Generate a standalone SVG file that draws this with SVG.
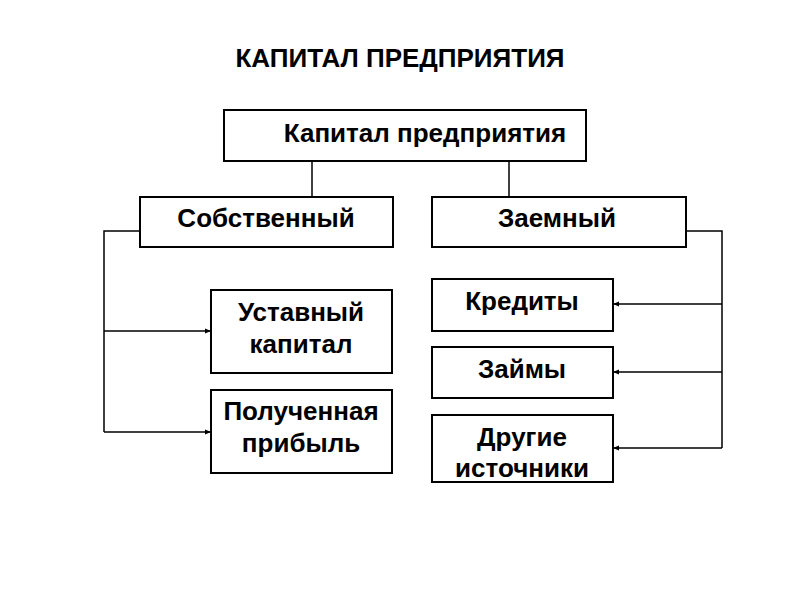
<svg xmlns="http://www.w3.org/2000/svg" width="800" height="600" viewBox="0 0 800 600">
<style>
.box{fill:#fff;stroke:#000;stroke-width:2}
.t{font-family:"Liberation Sans",Arial,sans-serif;font-weight:bold;font-size:26px;text-anchor:middle;fill:#000}
.c{fill:none;stroke:#000;stroke-width:1.5}
</style>
<defs>
<marker id="a" viewBox="0 0 6 6" refX="6" refY="3" markerWidth="6" markerHeight="6" markerUnits="userSpaceOnUse" orient="auto">
<path d="M0,0.5 L6,3 L0,5.5 z" fill="#000"/>
</marker>
</defs>
<rect width="800" height="600" fill="#fff"/>
<text class="t" x="400" y="67">КАПИТАЛ ПРЕДПРИЯТИЯ</text>
<g id="connectors">
<line class="c" x1="312" y1="161" x2="312" y2="197"/>
<line class="c" x1="509" y1="161" x2="509" y2="197"/>
<polyline class="c" points="140,231 104,231 104,432"/>
<line class="c" x1="104" y1="331" x2="211" y2="331" marker-end="url(#a)"/>
<line class="c" x1="104" y1="432" x2="211" y2="432" marker-end="url(#a)"/>
<polyline class="c" points="686,231 722,231 722,448"/>
<line class="c" x1="722" y1="304" x2="613" y2="304" marker-end="url(#a)"/>
<line class="c" x1="722" y1="372" x2="613" y2="372" marker-end="url(#a)"/>
<line class="c" x1="722" y1="448" x2="613" y2="448" marker-end="url(#a)"/>
</g>
<g id="n-root"><rect class="box" x="224" y="110" width="362" height="51"/><text class="t" x="425" y="142">Капитал предприятия</text></g>
<g id="n-own"><rect class="box" x="140" y="197" width="253" height="50"/><text class="t" x="266" y="227">Собственный</text></g>
<g id="n-borrowed"><rect class="box" x="432" y="197" width="254" height="50"/><text class="t" x="557" y="227">Заемный</text></g>
<g id="n-charter"><rect class="box" x="211" y="290" width="181" height="83"/><text class="t" x="301" y="321">Уставный</text><text class="t" x="301" y="353">капитал</text></g>
<g id="n-profit"><rect class="box" x="211" y="390" width="181" height="83"/><text class="t" x="301" y="420">Полученная</text><text class="t" x="301" y="452">прибыль</text></g>
<g id="n-credits"><rect class="box" x="432" y="279" width="181" height="52"/><text class="t" x="522" y="310">Кредиты</text></g>
<g id="n-loans"><rect class="box" x="432" y="347" width="181" height="51"/><text class="t" x="522" y="378">Займы</text></g>
<g id="n-other"><rect class="box" x="432" y="415" width="181" height="67"/><text class="t" x="522" y="446">Другие</text><text class="t" x="522" y="477">источники</text></g>
</svg>
